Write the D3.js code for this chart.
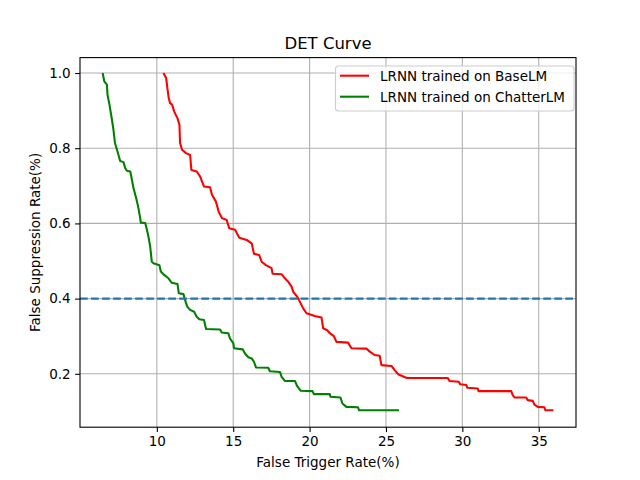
<!DOCTYPE html>
<html>
<head>
<meta charset="utf-8">
<script src="https://cdn.jsdelivr.net/npm/d3@7"></script>
<style>
  body { margin: 0; background: #fff; }
  text { font-family: "DejaVu Sans", sans-serif; }
</style>
</head>
<body>
<div id="wrapper"></div>
<script>
// data
const baseX = [10.43, 10.61, 10.69, 10.78, 10.87, 11.00, 11.13, 11.35, 11.48, 11.52, 11.65, 11.91, 12.18, 12.26, 12.61, 12.83, 13.09, 13.48, 13.61, 13.87, 14.05, 14.27, 14.57, 14.74, 15.12, 15.40, 15.88, 16.21, 16.36, 16.70, 16.86, 17.14, 17.51, 17.58, 18.17, 18.38, 18.60, 18.82, 18.93, 19.19, 19.36, 19.58, 19.80, 20.34, 20.78, 20.89, 21.15, 21.32, 21.59, 21.76, 22.52, 22.74, 23.72, 23.94, 24.26, 24.59, 24.70, 25.36, 25.57, 25.79, 26.37, 29.05, 29.16, 29.77, 29.86, 30.26, 30.32, 31.01, 31.06, 33.20, 33.30, 33.41, 34.18, 34.28, 34.61, 34.72, 34.94, 35.37, 35.44, 35.96];
const baseY = [1.000, 0.987, 0.960, 0.933, 0.920, 0.916, 0.898, 0.880, 0.862, 0.814, 0.796, 0.787, 0.782, 0.742, 0.738, 0.725, 0.698, 0.696, 0.676, 0.658, 0.631, 0.614, 0.609, 0.587, 0.583, 0.562, 0.556, 0.547, 0.519, 0.516, 0.498, 0.489, 0.481, 0.466, 0.465, 0.454, 0.445, 0.432, 0.418, 0.405, 0.392, 0.374, 0.361, 0.354, 0.350, 0.321, 0.316, 0.308, 0.300, 0.285, 0.283, 0.268, 0.267, 0.259, 0.250, 0.248, 0.223, 0.221, 0.210, 0.199, 0.189, 0.189, 0.181, 0.179, 0.172, 0.170, 0.163, 0.161, 0.154, 0.154, 0.143, 0.137, 0.137, 0.130, 0.128, 0.118, 0.112, 0.111, 0.103, 0.103];

const chatX = [6.45, 6.56, 6.73, 6.77, 6.90, 6.99, 7.08, 7.16, 7.26, 7.39, 7.49, 7.60, 7.82, 7.93, 8.04, 8.26, 8.37, 8.47, 8.65, 8.80, 8.91, 8.95, 9.24, 9.35, 9.45, 9.56, 9.67, 9.78, 10.17, 10.26, 10.48, 10.76, 10.98, 11.35, 11.44, 11.74, 11.85, 12.00, 12.18, 12.44, 12.61, 12.78, 13.09, 13.22, 14.14, 14.25, 14.68, 14.79, 15.01, 15.05, 15.62, 15.77, 15.99, 16.21, 16.36, 16.49, 17.29, 17.40, 18.06, 18.17, 18.38, 19.04, 19.19, 19.41, 20.19, 20.28, 21.32, 21.37, 22.02, 22.15, 22.41, 23.17, 23.24, 25.85];
const chatY = [1.000, 0.978, 0.969, 0.942, 0.916, 0.893, 0.871, 0.849, 0.814, 0.796, 0.782, 0.766, 0.763, 0.747, 0.740, 0.738, 0.716, 0.694, 0.667, 0.640, 0.614, 0.602, 0.601, 0.583, 0.565, 0.540, 0.498, 0.494, 0.489, 0.472, 0.463, 0.454, 0.442, 0.439, 0.414, 0.412, 0.396, 0.378, 0.370, 0.365, 0.352, 0.345, 0.343, 0.319, 0.318, 0.310, 0.308, 0.294, 0.281, 0.268, 0.265, 0.254, 0.244, 0.241, 0.232, 0.217, 0.216, 0.207, 0.205, 0.192, 0.181, 0.181, 0.167, 0.155, 0.154, 0.146, 0.146, 0.139, 0.137, 0.121, 0.112, 0.111, 0.103, 0.103];

const thresholdY = 0.4;
const xTicks = [10, 15, 20, 25, 30, 35];
const yTicks = [0.2, 0.4, 0.6, 0.8, 1.0];
const seriesNames = ["LRNN trained on BaseLM", "LRNN trained on ChatterLM"];
const seriesColors = ["#ff0000", "#008000"];

const series = [
  baseX.map((x, i) => [x, baseY[i]]),
  chatX.map((x, i) => [x, chatY[i]])
];

// dimensions
const dimensions = {
  width: 640,
  height: 480,
  margin: { top: 57.6, right: 64, bottom: 52.8, left: 80 }
};
dimensions.boundedWidth = dimensions.width - dimensions.margin.left - dimensions.margin.right;
dimensions.boundedHeight = dimensions.height - dimensions.margin.top - dimensions.margin.bottom;

const wrapper = d3.select("#wrapper")
  .append("svg")
  .attr("width", dimensions.width)
  .attr("height", dimensions.height);

const bounds = wrapper.append("g")
  .attr("transform", `translate(${dimensions.margin.left},${dimensions.margin.top})`);

// scales
const xScale = d3.scaleLinear()
  .domain([4.97, 37.44])
  .range([0, dimensions.boundedWidth]);

const yScale = d3.scaleLinear()
  .domain([0.058, 1.041])
  .range([dimensions.boundedHeight, 0]);

// grid
const grid = bounds.append("g");
grid.selectAll(".gx").data(xTicks).join("line")
  .attr("x1", d => xScale(d)).attr("x2", d => xScale(d))
  .attr("y1", 0).attr("y2", dimensions.boundedHeight)
  .attr("stroke", "#b0b0b0").attr("stroke-width", 1.1);
grid.selectAll(".gy").data(yTicks).join("line")
  .attr("y1", d => yScale(d)).attr("y2", d => yScale(d))
  .attr("x1", 0).attr("x2", dimensions.boundedWidth)
  .attr("stroke", "#b0b0b0").attr("stroke-width", 1.1);

// lines
const lineGenerator = d3.line()
  .x(d => xScale(d[0]))
  .y(d => yScale(d[1]));

wrapper.append("clipPath").attr("id", "clip")
  .append("rect").attr("width", dimensions.boundedWidth).attr("height", dimensions.boundedHeight);

const plot = bounds.append("g").attr("clip-path", "url(#clip)");

plot.selectAll(".series").data(series).join("path")
  .attr("d", lineGenerator)
  .attr("fill", "none")
  .attr("stroke", (d, i) => seriesColors[i])
  .attr("stroke-width", 2.08)
  .attr("stroke-linejoin", "round");

plot.append("line")
  .attr("x1", 0).attr("x2", dimensions.boundedWidth)
  .attr("y1", yScale(thresholdY)).attr("y2", yScale(thresholdY))
  .attr("stroke", "#1f77b4")
  .attr("stroke-width", 2.08)
  .attr("stroke-dasharray", "7.7,3.33");

// axes
const xAxisGenerator = d3.axisBottom(xScale).tickValues(xTicks).tickSizeOuter(0).tickSize(4.9).tickPadding(4.5);
const xAxis = bounds.append("g")
  .attr("transform", `translate(0,${dimensions.boundedHeight})`)
  .call(xAxisGenerator);

const yAxisGenerator = d3.axisLeft(yScale).tickValues(yTicks).tickFormat(d3.format(".1f")).tickSizeOuter(0).tickSize(4.9).tickPadding(4.5);
const yAxis = bounds.append("g").call(yAxisGenerator);

[xAxis, yAxis].forEach(ax => {
  ax.select(".domain").remove();
  ax.selectAll(".tick line").attr("stroke", "#000").attr("stroke-width", 1.1);
  ax.selectAll(".tick text").attr("font-size", 13.5).attr("fill", "#000")
    .attr("font-family", "DejaVu Sans, sans-serif");
});

// frame
bounds.append("rect")
  .attr("width", dimensions.boundedWidth)
  .attr("height", dimensions.boundedHeight)
  .attr("fill", "none")
  .attr("stroke", "#000")
  .attr("stroke-width", 1.1);

// labels
wrapper.append("text")
  .attr("x", dimensions.margin.left + dimensions.boundedWidth / 2)
  .attr("y", 49)
  .attr("text-anchor", "middle")
  .attr("font-size", 16.5)
  .text("DET Curve");

wrapper.append("text")
  .attr("x", dimensions.margin.left + dimensions.boundedWidth / 2)
  .attr("y", 467)
  .attr("text-anchor", "middle")
  .attr("font-size", 13.5)
  .text("False Trigger Rate(%)");

wrapper.append("text")
  .attr("transform", `translate(40,${dimensions.margin.top + dimensions.boundedHeight / 2}) rotate(-90)`)
  .attr("text-anchor", "middle")
  .attr("font-size", 13.5)
  .text("False Suppression Rate(%)");

// legend
const legend = bounds.append("g")
  .attr("transform", `translate(${dimensions.boundedWidth - 240.5},8.4)`);

legend.append("rect")
  .attr("width", 238.5).attr("height", 45)
  .attr("rx", 3)
  .attr("fill", "#fff").attr("fill-opacity", 0.8)
  .attr("stroke", "#cccccc").attr("stroke-width", 1.1);

const items = legend.selectAll(".item").data(seriesNames).join("g")
  .attr("transform", (d, i) => `translate(0,${9.7 + i * 21})`);

items.append("line")
  .attr("x1", 4.5).attr("x2", 33.5)
  .attr("stroke", (d, i) => seriesColors[i])
  .attr("stroke-width", 2.08);

items.append("text")
  .attr("x", 44.5).attr("y", 5)
  .attr("font-size", 13.5)
  .text(d => d);
</script>
</body>
</html>
